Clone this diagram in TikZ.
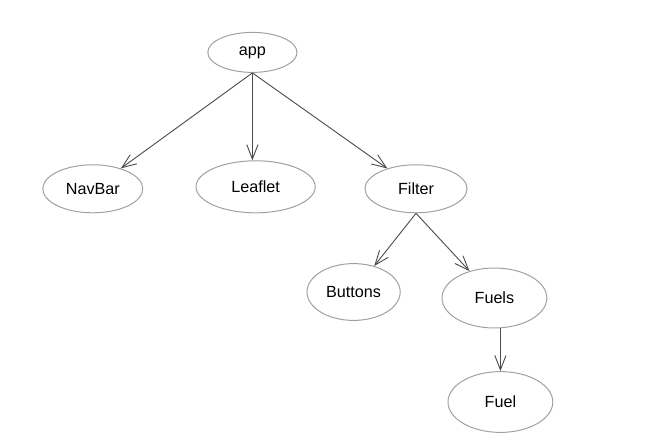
\documentclass[tikz,border=0pt]{standalone}
\usepackage{fontspec}
\setmainfont{Liberation Sans}
\usetikzlibrary{arrows.meta,shapes.geometric}

\begin{document}
\begin{tikzpicture}[
    comp/.style={ellipse, draw=gray!75, line width=0.7pt, inner sep=0pt, align=center, font=\fontsize{11.5}{13}\selectfont},
    arrow/.style={-{Straight Barb[length=3.6mm,width=2.8mm]}, draw=black!70, line width=0.65pt}
]
\useasboundingbox (0,0) rectangle (16.55,-11.15);

% Root
\node[comp, minimum width=2.23cm, minimum height=1.0cm] (app) at (6.31,-1.31) {app};

% Children of app
\node[comp, minimum width=2.5cm, minimum height=1.2cm] (navbar) at (2.32,-4.72) {NavBar};
\node[comp, minimum width=2.98cm, minimum height=1.3cm] (leaflet) at (6.39,-4.67) {Leaflet};
\node[comp, minimum width=2.55cm, minimum height=1.2cm] (filter) at (10.4,-4.72) {Filter};

% Children of Filter
\node[comp, minimum width=2.33cm, minimum height=1.42cm] (buttons) at (8.84,-7.3) {Buttons};
\node[comp, minimum width=2.62cm, minimum height=1.5cm] (fuels) at (12.36,-7.45) {Fuels};

% Child of Fuels
\node[comp, minimum width=2.62cm, minimum height=1.52cm] (fuel) at (12.51,-10.05) {Fuel};

% Arrows
\draw[arrow] (app.south) -- (navbar);
\draw[arrow] (app.south) -- (app.south |- leaflet.north);
\draw[arrow] (app.south) -- (filter);
\draw[arrow] (filter.south) -- (buttons);
\draw[arrow] (filter.south) -- (fuels);
\draw[arrow] (fuels.south -| fuel.north) -- (fuel.north);

\end{tikzpicture}
\end{document}
